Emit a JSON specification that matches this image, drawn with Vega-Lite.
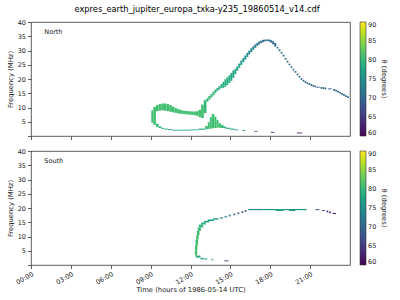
{
  "$schema": "https://vega.github.io/schema/vega-lite/v6.json",
  "padding": {"left": 6, "top": 5, "right": 4, "bottom": 4},
  "title": {"text": "expres_earth_jupiter_europa_txka-y235_19860514_v14.cdf", "fontSize": 8.3, "font": "DejaVu Sans", "fontWeight": "normal", "color": "#000", "anchor": "middle", "offset": 5},
  "datasets": {
    "north": [
      {"t": 9.05, "t2": 9.2, "f1": 4.6, "f2": 9.0, "th": 81},
      {"t": 9.2, "t2": 9.4, "f1": 3.9, "f2": 10.2, "th": 81},
      {"t": 9.4, "t2": 9.6, "f1": 8.7, "f2": 10.9, "th": 81},
      {"t": 9.4, "t2": 9.6, "f1": 3.2, "f2": 4.3, "th": 80},
      {"t": 9.6, "t2": 9.8, "f1": 8.9, "f2": 11.2, "th": 81},
      {"t": 9.6, "t2": 9.8, "f1": 2.8, "f2": 3.4, "th": 79},
      {"t": 9.8, "t2": 10.0, "f1": 9.0, "f2": 11.4, "th": 81},
      {"t": 9.8, "t2": 10.0, "f1": 2.5, "f2": 2.9, "th": 78},
      {"t": 10.0, "t2": 10.2, "f1": 8.9, "f2": 11.4, "th": 81},
      {"t": 10.0, "t2": 10.3, "f1": 2.3, "f2": 2.6, "th": 77},
      {"t": 10.2, "t2": 10.4, "f1": 8.7, "f2": 11.2, "th": 81},
      {"t": 10.4, "t2": 10.6, "f1": 8.5, "f2": 10.8, "th": 81},
      {"t": 10.6, "t2": 10.8, "f1": 8.3, "f2": 10.3, "th": 81},
      {"t": 10.8, "t2": 11.0, "f1": 8.1, "f2": 9.8, "th": 81},
      {"t": 11.0, "t2": 11.2, "f1": 7.9, "f2": 9.4, "th": 81},
      {"t": 11.2, "t2": 11.4, "f1": 7.8, "f2": 9.1, "th": 81},
      {"t": 11.4, "t2": 11.6, "f1": 7.7, "f2": 8.9, "th": 81},
      {"t": 11.6, "t2": 11.8, "f1": 7.6, "f2": 8.8, "th": 81},
      {"t": 11.8, "t2": 12.0, "f1": 7.5, "f2": 8.7, "th": 81},
      {"t": 12.0, "t2": 12.2, "f1": 7.4, "f2": 8.6, "th": 81},
      {"t": 12.2, "t2": 12.4, "f1": 7.3, "f2": 8.6, "th": 81},
      {"t": 12.4, "t2": 12.6, "f1": 7.1, "f2": 8.7, "th": 81},
      {"t": 12.6, "t2": 12.8, "f1": 6.6, "f2": 9.2, "th": 81},
      {"t": 12.8, "t2": 13.0, "f1": 6.3, "f2": 11.0, "th": 81},
      {"t": 13.0, "t2": 13.2, "f1": 8.0, "f2": 12.6, "th": 80},
      {"t": 10.3, "t2": 10.6, "f1": 2.1, "f2": 2.4, "th": 77},
      {"t": 10.6, "t2": 12.0, "f1": 1.9, "f2": 2.2, "th": 77},
      {"t": 12.0, "t2": 12.6, "f1": 2.0, "f2": 2.3, "th": 77},
      {"t": 12.6, "t2": 13.1, "f1": 2.2, "f2": 2.6, "th": 78},
      {"t": 13.1, "t2": 13.3, "f1": 2.4, "f2": 3.5, "th": 80},
      {"t": 13.3, "t2": 13.45, "f1": 2.5, "f2": 4.8, "th": 81},
      {"t": 13.45, "t2": 13.6, "f1": 2.6, "f2": 6.6, "th": 81},
      {"t": 13.6, "t2": 13.8, "f1": 2.7, "f2": 7.7, "th": 81},
      {"t": 13.8, "t2": 13.95, "f1": 2.8, "f2": 6.8, "th": 81},
      {"t": 13.95, "t2": 14.1, "f1": 2.9, "f2": 5.6, "th": 81},
      {"t": 14.1, "t2": 14.3, "f1": 2.9, "f2": 4.5, "th": 81},
      {"t": 14.3, "t2": 14.5, "f1": 2.8, "f2": 3.8, "th": 80},
      {"t": 14.5, "t2": 14.7, "f1": 2.7, "f2": 3.3, "th": 79},
      {"t": 14.7, "t2": 15.0, "f1": 2.5, "f2": 2.9, "th": 78},
      {"t": 15.0, "t2": 15.3, "f1": 2.2, "f2": 2.6, "th": 77},
      {"t": 15.3, "t2": 15.6, "f1": 2.0, "f2": 2.3, "th": 76},
      {"t": 15.9, "t2": 16.1, "f1": 1.8, "f2": 2.1, "th": 74},
      {"t": 16.8, "t2": 17.05, "f1": 1.5, "f2": 1.8, "th": 66},
      {"t": 18.05, "t2": 18.3, "f1": 1.15, "f2": 1.45, "th": 62},
      {"t": 20.0, "t2": 20.4, "f1": 0.9, "f2": 1.2, "th": 61},
      {"t": 13.2, "t2": 13.35, "f1": 12.05, "f2": 13.25, "th": 80},
      {"t": 13.35, "t2": 13.5, "f1": 12.75, "f2": 14.05, "th": 80},
      {"t": 13.5, "t2": 13.65, "f1": 13.55, "f2": 14.75, "th": 80},
      {"t": 13.65, "t2": 13.8, "f1": 14.25, "f2": 15.55, "th": 80},
      {"t": 13.8, "t2": 13.95, "f1": 15.05, "f2": 16.25, "th": 80},
      {"t": 13.95, "t2": 14.1, "f1": 15.75, "f2": 16.85, "th": 79},
      {"t": 14.1, "t2": 14.25, "f1": 16.35, "f2": 17.45, "th": 79},
      {"t": 14.25, "t2": 14.4, "f1": 16.8, "f2": 18.2, "th": 79},
      {"t": 14.4, "t2": 14.55, "f1": 16.9, "f2": 19.0, "th": 79},
      {"t": 14.55, "t2": 14.7, "f1": 17.3, "f2": 19.9, "th": 79},
      {"t": 14.7, "t2": 14.85, "f1": 17.9, "f2": 20.6, "th": 79},
      {"t": 14.85, "t2": 15.0, "f1": 18.6, "f2": 21.3, "th": 79},
      {"t": 15.0, "t2": 15.15, "f1": 19.4, "f2": 22.1, "th": 78},
      {"t": 15.15, "t2": 15.3, "f1": 20.4, "f2": 23.0, "th": 78},
      {"t": 15.3, "t2": 15.45, "f1": 21.7, "f2": 23.6, "th": 78},
      {"t": 15.45, "t2": 15.6, "f1": 22.95, "f2": 24.45, "th": 77},
      {"t": 15.6, "t2": 15.75, "f1": 23.95, "f2": 25.45, "th": 77},
      {"t": 15.75, "t2": 15.9, "f1": 24.95, "f2": 26.45, "th": 76},
      {"t": 15.9, "t2": 16.05, "f1": 25.95, "f2": 27.35, "th": 76},
      {"t": 16.05, "t2": 16.2, "f1": 26.85, "f2": 28.25, "th": 75},
      {"t": 16.2, "t2": 16.35, "f1": 27.75, "f2": 29.15, "th": 75},
      {"t": 16.35, "t2": 16.5, "f1": 28.65, "f2": 29.95, "th": 74},
      {"t": 16.5, "t2": 16.65, "f1": 29.45, "f2": 30.75, "th": 74},
      {"t": 16.65, "t2": 16.8, "f1": 30.25, "f2": 31.45, "th": 73},
      {"t": 16.8, "t2": 16.95, "f1": 30.95, "f2": 32.15, "th": 73},
      {"t": 16.95, "t2": 17.1, "f1": 31.65, "f2": 32.65, "th": 72},
      {"t": 17.1, "t2": 17.25, "f1": 32.15, "f2": 33.15, "th": 72},
      {"t": 17.25, "t2": 17.4, "f1": 32.65, "f2": 33.45, "th": 71},
      {"t": 17.4, "t2": 17.55, "f1": 32.95, "f2": 33.75, "th": 71},
      {"t": 17.55, "t2": 17.7, "f1": 33.25, "f2": 33.85, "th": 70},
      {"t": 17.7, "t2": 17.85, "f1": 33.35, "f2": 33.85, "th": 70},
      {"t": 17.85, "t2": 18.0, "f1": 33.15, "f2": 33.85, "th": 70},
      {"t": 18.0, "t2": 18.15, "f1": 32.75, "f2": 33.65, "th": 70},
      {"t": 18.15, "t2": 18.3, "f1": 32.15, "f2": 33.25, "th": 70},
      {"t": 18.3, "t2": 18.45, "f1": 31.35, "f2": 32.65, "th": 70},
      {"t": 21.5, "t2": 21.72, "f1": 16.95, "f2": 17.3, "th": 69},
      {"t": 22.35, "t2": 22.62, "f1": 16.35, "f2": 16.7, "th": 69}
    ],
    "northDots": [
      {"t": 18.55, "f": 31.0, "th": 70}, {"t": 18.7, "f": 30.1, "th": 70}, {"t": 18.85, "f": 29.2, "th": 70},
      {"t": 19.0, "f": 28.2, "th": 70}, {"t": 19.15, "f": 27.1, "th": 70}, {"t": 19.3, "f": 26.1, "th": 70},
      {"t": 19.45, "f": 25.1, "th": 70}, {"t": 19.6, "f": 24.2, "th": 70}, {"t": 19.75, "f": 23.3, "th": 70},
      {"t": 19.9, "f": 22.5, "th": 70}, {"t": 20.05, "f": 21.6, "th": 70}, {"t": 20.2, "f": 20.8, "th": 70},
      {"t": 20.35, "f": 20.0, "th": 70}, {"t": 20.5, "f": 19.4, "th": 70}, {"t": 20.65, "f": 18.9, "th": 70},
      {"t": 20.8, "f": 18.5, "th": 70}, {"t": 20.95, "f": 18.2, "th": 70}, {"t": 21.1, "f": 17.9, "th": 70},
      {"t": 21.25, "f": 17.6, "th": 70}, {"t": 21.4, "f": 17.35, "th": 70}, {"t": 21.85, "f": 16.9, "th": 70},
      {"t": 22.0, "f": 16.8, "th": 70}, {"t": 22.15, "f": 16.7, "th": 70}, {"t": 22.8, "f": 16.2, "th": 70},
      {"t": 22.95, "f": 15.9, "th": 70}, {"t": 23.1, "f": 15.6, "th": 70}, {"t": 23.25, "f": 15.2, "th": 70},
      {"t": 23.4, "f": 14.8, "th": 70}, {"t": 23.55, "f": 14.4, "th": 70}, {"t": 23.7, "f": 14.0, "th": 70},
      {"t": 23.85, "f": 13.6, "th": 70}
    ],
    "south": [
      {"t": 12.4, "t2": 12.75, "f1": 2.6, "f2": 3.3, "th": 78},
      {"t": 12.33, "t2": 12.5, "f1": 3.3, "f2": 5.0, "th": 81},
      {"t": 12.34, "t2": 12.52, "f1": 5.0, "f2": 7.0, "th": 81},
      {"t": 12.38, "t2": 12.57, "f1": 7.0, "f2": 9.0, "th": 81},
      {"t": 12.43, "t2": 12.62, "f1": 9.0, "f2": 10.5, "th": 81},
      {"t": 12.48, "t2": 12.68, "f1": 10.5, "f2": 12.0, "th": 81},
      {"t": 12.55, "t2": 12.78, "f1": 12.0, "f2": 13.2, "th": 80},
      {"t": 12.63, "t2": 12.95, "f1": 13.2, "f2": 14.2, "th": 80},
      {"t": 12.8, "t2": 13.15, "f1": 14.2, "f2": 14.9, "th": 79},
      {"t": 13.0, "t2": 13.4, "f1": 14.9, "f2": 15.5, "th": 78},
      {"t": 13.3, "t2": 13.75, "f1": 15.4, "f2": 16.0, "th": 77},
      {"t": 13.7, "t2": 14.1, "f1": 15.9, "f2": 16.4, "th": 76},
      {"t": 14.2, "t2": 14.45, "f1": 16.3, "f2": 16.7, "th": 74},
      {"t": 14.55, "t2": 14.75, "f1": 16.7, "f2": 17.1, "th": 72},
      {"t": 12.75, "t2": 13.0, "f1": 2.0, "f2": 2.5, "th": 77},
      {"t": 13.05, "t2": 13.25, "f1": 1.9, "f2": 2.3, "th": 76},
      {"t": 13.55, "t2": 13.72, "f1": 1.7, "f2": 2.0, "th": 73},
      {"t": 14.55, "t2": 14.85, "f1": 1.3, "f2": 1.6, "th": 62},
      {"t": 16.35, "t2": 17.5, "f1": 19.25, "f2": 19.65, "th": 73},
      {"t": 17.5, "t2": 18.5, "f1": 19.25, "f2": 19.65, "th": 75},
      {"t": 18.5, "t2": 19.5, "f1": 19.25, "f2": 19.65, "th": 76},
      {"t": 19.5, "t2": 20.75, "f1": 19.25, "f2": 19.65, "th": 75},
      {"t": 18.4, "t2": 19.0, "f1": 18.95, "f2": 19.65, "th": 77},
      {"t": 19.4, "t2": 19.9, "f1": 18.95, "f2": 19.65, "th": 76},
      {"t": 21.4, "t2": 21.7, "f1": 19.25, "f2": 19.6, "th": 68},
      {"t": 21.9, "t2": 22.1, "f1": 18.95, "f2": 19.3, "th": 66},
      {"t": 22.7, "t2": 22.95, "f1": 17.9, "f2": 18.25, "th": 61}
    ],
    "southDots": [
      {"t": 14.95, "f": 17.35, "th": 71}, {"t": 15.3, "f": 17.75, "th": 70}, {"t": 15.6, "f": 18.15, "th": 69},
      {"t": 15.9, "f": 18.55, "th": 68}, {"t": 16.15, "f": 18.95, "th": 68}, {"t": 22.3, "f": 18.8, "th": 64},
      {"t": 22.5, "f": 18.5, "th": 63}
    ],
    "labels": [{"hemi": "North", "lt": 1.0, "lf": 36.5}],
    "labelsS": [{"hemi": "South", "lt": 1.0, "lf": 36.5}]
  },
  "vconcat": [
    {
      "width": 319, "height": 114,
      "encoding": {
        "x": {"type": "quantitative", "scale": {"domain": [0, 24], "nice": false, "zero": false},
              "axis": {"tickCount": 8, "values": [0, 3, 6, 9, 12, 15, 18, 21], "labels": false, "title": null}},
        "y": {"type": "quantitative", "scale": {"domain": [0, 40], "nice": false},
              "axis": {"tickCount": 8, "labelOverlap": false, "labelExpr": "datum.value == 0 ? '' : datum.label", "title": "Frequency (MHz)"}},
        "color": {"type": "quantitative", "scale": {"scheme": "viridis", "domain": [60, 90]},
                  "legend": {"title": "θ (degrees)", "values": [60, 65, 70, 75, 80, 85, 90], "gradientLength": 114, "gradientThickness": 6, "offset": 10, "titleOrient": "right", "titleAngle": 270, "direction": "vertical", "gradientStrokeColor": "#333", "gradientStrokeWidth": 0.6}}
      },
      "layer": [
        {
          "data": {"name": "north"},
          "mark": {"type": "rect"},
          "encoding": {
            "x": {"field": "t", "type": "quantitative"},
            "x2": {"field": "t2"},
            "y": {"field": "f1", "type": "quantitative"},
            "y2": {"field": "f2"},
            "color": {"field": "th", "type": "quantitative"}
          }
        },
        {
          "data": {"name": "northDots"},
          "mark": {"type": "point", "shape": "square", "filled": true, "size": 3, "opacity": 1},
          "encoding": {
            "x": {"field": "t", "type": "quantitative"},
            "y": {"field": "f", "type": "quantitative"},
            "color": {"field": "th", "type": "quantitative"}
          }
        },
        {
          "data": {"name": "labels"},
          "mark": {"type": "text", "align": "left", "baseline": "middle", "fontSize": 6.5, "color": "#222"},
          "encoding": {
            "x": {"field": "lt", "type": "quantitative"},
            "y": {"field": "lf", "type": "quantitative"},
            "text": {"field": "hemi"},
            "color": null
          }
        }
      ]
    },
    {
      "width": 319, "height": 114,
      "encoding": {
        "x": {"type": "quantitative", "scale": {"domain": [0, 24], "nice": false, "zero": false},
              "axis": {"tickCount": 8, "values": [0, 3, 6, 9, 12, 15, 18, 21], "labelOverlap": false, "labelExpr": "(datum.value < 10 ? '0' : '') + datum.value + ':00'", "labelAngle": -30, "labelAlign": "right", "labelBaseline": "top", "titlePadding": 1, "title": "Time (hours of 1986-05-14 UTC)"}},
        "y": {"type": "quantitative", "scale": {"domain": [0, 40], "nice": false},
              "axis": {"tickCount": 8, "labelOverlap": false, "labelExpr": "datum.value == 0 ? '' : datum.label", "title": "Frequency (MHz)"}},
        "color": {"type": "quantitative", "scale": {"scheme": "viridis", "domain": [60, 90]},
                  "legend": {"title": "θ (degrees)", "values": [60, 65, 70, 75, 80, 85, 90], "gradientLength": 114, "gradientThickness": 6, "offset": 10, "titleOrient": "right", "titleAngle": 270, "direction": "vertical", "gradientStrokeColor": "#333", "gradientStrokeWidth": 0.6}}
      },
      "layer": [
        {
          "data": {"name": "south"},
          "mark": {"type": "rect"},
          "encoding": {
            "x": {"field": "t", "type": "quantitative"},
            "x2": {"field": "t2"},
            "y": {"field": "f1", "type": "quantitative"},
            "y2": {"field": "f2"},
            "color": {"field": "th", "type": "quantitative"}
          }
        },
        {
          "data": {"name": "southDots"},
          "mark": {"type": "point", "shape": "square", "filled": true, "size": 3, "opacity": 1},
          "encoding": {
            "x": {"field": "t", "type": "quantitative"},
            "y": {"field": "f", "type": "quantitative"},
            "color": {"field": "th", "type": "quantitative"}
          }
        },
        {
          "data": {"name": "labelsS"},
          "mark": {"type": "text", "align": "left", "baseline": "middle", "fontSize": 6.5, "color": "#222"},
          "encoding": {
            "x": {"field": "lt", "type": "quantitative"},
            "y": {"field": "lf", "type": "quantitative"},
            "text": {"field": "hemi"},
            "color": null
          }
        }
      ]
    }
  ],
  "spacing": 6,
  "resolve": {"scale": {"color": "independent"}, "legend": {"color": "independent"}},
  "config": {
    "font": "DejaVu Sans",
    "view": {"stroke": "#333", "strokeWidth": 0.8},
    "axis": {"domain": false, "grid": false, "labelOverlap": false, "tickColor": "#333", "tickSize": 3.5, "tickWidth": 0.8, "labelFontSize": 6.5, "labelColor": "#222", "titleFontSize": 6.8, "titleFontWeight": "normal", "titleColor": "#222", "labelPadding": 2, "titlePadding": 4},
    "legend": {"labelFontSize": 6.5, "titleFontSize": 6.8, "titleFontWeight": "normal", "labelColor": "#222", "titleColor": "#222"}
  }
}
